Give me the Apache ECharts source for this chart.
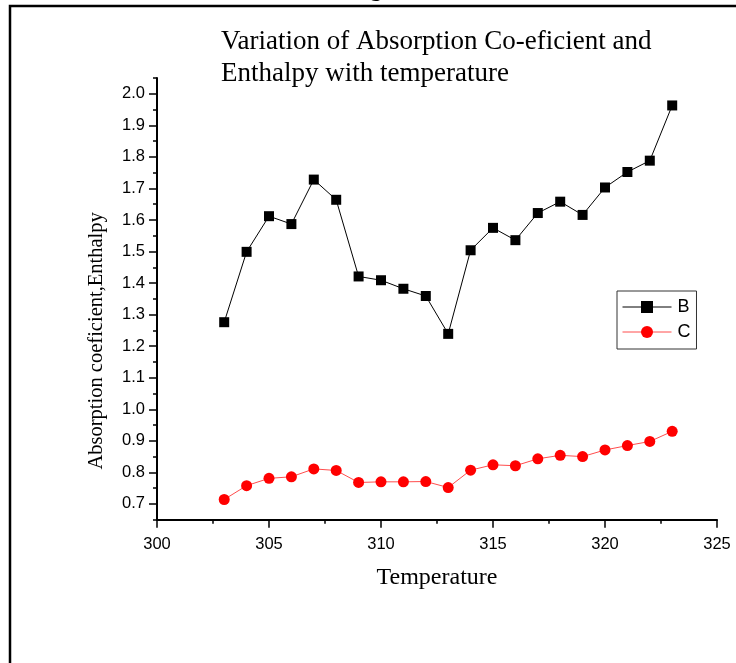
<!DOCTYPE html>
<html>
<head>
<meta charset="utf-8">
<script src="https://cdn.jsdelivr.net/npm/echarts@6/dist/echarts.min.js"></script>
<style>
html,body{margin:0;padding:0;background:#fff;}
#chart{width:736px;height:663px;}
</style>
</head>
<body>
<div id="chart"></div>
<script>
const temperatures = [303,304,305,306,307,308,309,310,311,312,313,314,315,316,317,318,319,320,321,322,323];
const seriesB = [1.276,1.499,1.612,1.587,1.728,1.664,1.421,1.409,1.382,1.359,1.239,1.504,1.575,1.536,1.622,1.658,1.616,1.703,1.752,1.788,1.963];
const seriesC = [0.714,0.758,0.781,0.786,0.811,0.806,0.768,0.770,0.770,0.771,0.752,0.807,0.824,0.821,0.843,0.854,0.850,0.871,0.885,0.898,0.930];
const seriesNames = ['B','C'];
const yMajorTicks = [0.7,0.8,0.9,1.0,1.1,1.2,1.3,1.4,1.5,1.6,1.7,1.8,1.9,2.0];
const yMinorTicks = [0.65,0.75,0.85,0.95,1.05,1.15,1.25,1.35,1.45,1.55,1.65,1.75,1.85,1.95,2.05];
const titleText = 'Variation of Absorption Co-eficient and\nEnthalpy with temperature';
const xName = 'Temperature';
const yName = 'Absorption coeficient,Enthalpy';

const chart = echarts.init(document.getElementById('chart'), null, {renderer:'canvas'});
const serif = 'Liberation Serif';
const sans = 'Liberation Sans';
const option = {
  backgroundColor:'#fff',
  animation:false,
  title:{
    text:titleText, left:221, top:26, padding:0,
    textStyle:{fontFamily:serif, fontSize:27, fontWeight:'normal', color:'#000', lineHeight:32}
  },
  graphic:[
    {type:'polyline', shape:{points:[[10,663],[10,6],[736,6]]}, style:{stroke:'#000', lineWidth:2.5, fill:null}},
    {type:'text', left:370, top:-22, style:{text:'g', font:'bold 24px Liberation Serif', fill:'#000'}}
  ],
  legend:{
    data:seriesNames, left:617, top:291, orient:'vertical',
    padding:[7,6,8,5], itemWidth:49, itemHeight:15, itemGap:7,
    borderColor:'#333', borderWidth:1,
    lineStyle:{width:1},
    textStyle:{fontFamily:sans, fontSize:18, color:'#000', padding:[0,0,0,1]}
  },
  grid:{left:157, right:19, top:78, bottom:143.3},
  xAxis:{
    type:'value', min:300, max:325, interval:5,
    name:xName, nameLocation:'middle', nameGap:46,
    nameTextStyle:{fontFamily:serif, fontSize:24, color:'#000'},
    axisLine:{lineStyle:{color:'#000', width:2}},
    axisTick:{length:8, lineStyle:{color:'#000', width:1.5}},
    minorTick:{show:true, splitNumber:2, length:4, lineStyle:{color:'#000', width:1.5}},
    axisLabel:{margin:16, fontFamily:sans, fontSize:16.5, color:'#000'},
    splitLine:{show:false}
  },
  yAxis:[{
    type:'value', min:0.65, max:2.05,
    name:yName, nameLocation:'middle', nameGap:50,
    nameTextStyle:{fontFamily:serif, fontSize:20.5, color:'#000', padding:[0,84,0,0]},
    axisLine:{lineStyle:{color:'#000', width:2}},
    axisTick:{customValues:yMajorTicks, length:8, lineStyle:{color:'#000', width:1.5}},
    axisLabel:{customValues:yMajorTicks, margin:12, fontFamily:sans, fontSize:16.5, color:'#000',
      formatter:v=>Number(v).toFixed(1)},
    splitLine:{show:false}
  },{
    type:'value', min:0.65, max:2.05, position:'left',
    axisLine:{show:false},
    axisTick:{show:true, customValues:yMinorTicks, length:4, lineStyle:{color:'#000', width:1.5}},
    axisLabel:{show:false},
    splitLine:{show:false}
  }],
  series:[{
    name:seriesNames[0], type:'line', yAxisIndex:0,
    data:temperatures.map((t,i)=>[t, seriesB[i]]),
    symbol:'rect', symbolSize:10,
    itemStyle:{color:'#000'},
    lineStyle:{color:'#000', width:1}
  },{
    name:seriesNames[1], type:'line', yAxisIndex:0,
    data:temperatures.map((t,i)=>[t, seriesC[i]]),
    symbol:'circle', symbolSize:11,
    itemStyle:{color:'#ff0000'},
    lineStyle:{color:'#ff4d4d', width:1}
  }]
};
chart.setOption(option);
</script>
</body>
</html>
